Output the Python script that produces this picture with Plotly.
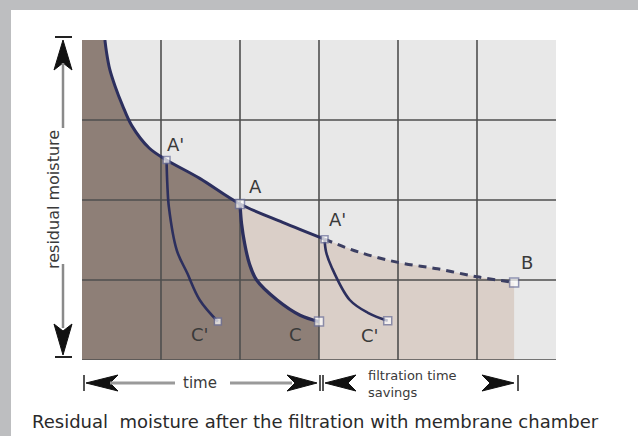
import plotly.graph_objects as go

# ---------------- data ----------------
x_ticks = [0, 1, 2, 3, 4, 5, 6]
y_ticks = [0, 1, 2, 3, 4]

# main filtration curve (start -> A' -> A -> A'')
main_x = [0.29, 0.31, 0.35, 0.42, 0.51, 0.63, 0.85, 1.07, 1.49, 2.0, 2.54, 3.07]
main_y = [4.0, 3.85, 3.64, 3.42, 3.19, 2.93, 2.65, 2.5, 2.27, 1.95, 1.72, 1.51]

# dashed continuation A'' -> B
dash_x = [3.07, 3.5, 4.0, 4.5, 5.0, 5.47]
dash_y = [1.51, 1.35, 1.22, 1.14, 1.04, 0.97]

# pressing curves
c1_x = [1.07, 1.08, 1.10, 1.20, 1.33, 1.49, 1.72]
c1_y = [2.5, 2.2, 1.91, 1.37, 1.09, 0.75, 0.48]
c2_x = [2.0, 2.02, 2.06, 2.12, 2.21, 2.47, 2.76, 3.0]
c2_y = [1.95, 1.7, 1.45, 1.2, 1.0, 0.75, 0.56, 0.48]
c3_x = [3.07, 3.09, 3.16, 3.39, 3.62, 3.87]
c3_y = [1.51, 1.35, 1.16, 0.75, 0.59, 0.49]

pt_names = ["A'", "A", "A'", "C'", "C", "C'", "B"]
pt_x = [1.07, 2.0, 3.07, 1.72, 3.0, 3.87, 5.47]
pt_y = [2.5, 1.95, 1.51, 0.48, 0.48, 0.49, 0.97]
pt_size = [7, 9, 7, 7, 9, 8, 9]

axis_label = "residual moisture"
time_label = "time"
saving_label = "filtration time<br>savings"
caption = "Residual  moisture after the filtration with membrane chamber"

# ---------------- geometry helpers ----------------
W, H = 638, 436
L, R, T, B = 82, 556, 40, 360


def px(x):
    return (x - L) / (R - L)


def py(y):
    return (B - y) / (B - T)


DARK = "#8e7f77"
BEIGE = "#dacfc8"
PLOTBG = "#e8e8e8"
GRID = "#4e4e4e"
CURVE = "#2c2f5e"
TXT = "#3a3a3a"

fig = go.Figure()

# beige fill: under main curve from A to A'' and dashed line to B
ia = main_x.index(2.0)
bx = [main_x[ia]] + main_x[ia:] + dash_x[1:] + [dash_x[-1]]
by = [0] + main_y[ia:] + dash_y[1:] + [0]
fig.add_trace(go.Scatter(x=bx, y=by, fill="toself", fillcolor=BEIGE,
                         mode="none", hoverinfo="skip"))

# dark fill: under main curve up to A and under the A-C curve
dx = [x_ticks[0], x_ticks[0]] + main_x[:ia + 1] + c2_x[1:] + [c2_x[-1]]
dy = [0, y_ticks[-1]] + main_y[:ia + 1] + c2_y[1:] + [0]
fig.add_trace(go.Scatter(x=dx, y=dy, fill="toself", fillcolor=DARK,
                         mode="none", hoverinfo="skip"))

# grid lines on top of fills
gx, gy = [], []
for v in x_ticks[1:-1]:
    gx += [v, v, None]
    gy += [y_ticks[0], y_ticks[-1], None]
for h in y_ticks[:-1]:
    gx += [x_ticks[0], x_ticks[-1], None]
    gy += [h, h, None]
fig.add_trace(go.Scatter(x=gx, y=gy, mode="lines",
                         line=dict(color=GRID, width=1.6), hoverinfo="skip",
                         cliponaxis=False))

# curves
fig.add_trace(go.Scatter(x=main_x, y=main_y, mode="lines",
                         line=dict(color=CURVE, width=3, shape="spline"),
                         cliponaxis=False))
fig.add_trace(go.Scatter(x=dash_x, y=dash_y, mode="lines",
                         line=dict(color="#3c3f62", width=3, dash="8px,6px",
                                   shape="spline")))
for cx, cy, w in [(c1_x, c1_y, 2.6), (c2_x, c2_y, 3.3), (c3_x, c3_y, 2.6)]:
    fig.add_trace(go.Scatter(x=cx, y=cy, mode="lines",
                             line=dict(color=CURVE, width=w, shape="spline")))

# point markers
fig.add_trace(go.Scatter(x=pt_x, y=pt_y, mode="markers",
                         marker=dict(symbol="square", size=pt_size, color="white",
                                     line=dict(color="#6a6f9a", width=1.5))))

# point labels
offs = [(9, 16), (15, 18), (13, 20), (-18, -13), (-24, -13), (-18, -15), (13, 20)]
for n, x, y, (ox, oy) in zip(pt_names, pt_x, pt_y, offs):
    fig.add_annotation(x=x, y=y, text=n, showarrow=False, xshift=ox, yshift=oy,
                       xanchor="center", yanchor="middle",
                       font=dict(family="DejaVu Sans", size=18, color=TXT))

shapes = []
# gray frame (top and left bands)
shapes.append(dict(type="rect", xref="paper", yref="paper", x0=px(0), x1=px(W),
                   y0=py(10), y1=py(0), fillcolor="#bdbec0", line_width=0, layer="below"))
shapes.append(dict(type="rect", xref="paper", yref="paper", x0=px(0), x1=px(11),
                   y0=py(H), y1=py(0), fillcolor="#bdbec0", line_width=0, layer="below"))


def line(x0, y0, x1, y1, color, width):
    shapes.append(dict(type="line", xref="paper", yref="paper", x0=px(x0), y0=py(y0),
                       x1=px(x1), y1=py(y1), line=dict(color=color, width=width)))


def head(tip, b1, b2, notch):
    pts = [tip, b1, notch, b2]
    path = "M " + " L ".join(f"{px(a):.5f},{py(b):.5f}" for a, b in pts) + " Z"
    shapes.append(dict(type="path", xref="paper", yref="paper", path=path,
                       fillcolor="#111111", line=dict(color="#111111", width=1)))


# vertical arrow (left)
line(55, 37, 72, 37, "#222", 2)
head((63, 40), (54, 70), (72, 70), (63, 63))
line(63, 63, 63, 128, "#8a8a8a", 2.5)
line(63, 264, 63, 328, "#8a8a8a", 2.5)
head((63, 355), (54, 324), (72, 324), (63, 331))
line(55, 357, 72, 357, "#222", 2)

# horizontal time arrow
line(84, 375, 84, 391, "#555", 2)
head((86, 383), (118, 375), (118, 391), (110, 383))
line(110, 383, 175, 383, "#9a9a9a", 3)
line(230, 383, 292, 383, "#9a9a9a", 3)
head((317, 383), (287, 375), (287, 391), (295, 383))
line(320, 375, 320, 391, "#555", 2)

# savings arrow
line(323, 375, 323, 391, "#555", 2)
head((325, 383), (356, 375), (356, 391), (348, 383))
head((514, 383), (482, 375), (482, 391), (490, 383))
line(518, 375, 518, 391, "#555", 2)

fig.update_layout(shapes=shapes)

fig.add_annotation(xref="paper", yref="paper", x=px(53), y=py(200), text=axis_label,
                   textangle=-90, showarrow=False, xanchor="center", yanchor="middle",
                   font=dict(family="DejaVu Sans", size=16, color=TXT))
fig.add_annotation(xref="paper", yref="paper", x=px(200), y=py(383), text=time_label,
                   showarrow=False, xanchor="center", yanchor="middle",
                   font=dict(family="DejaVu Sans", size=15, color=TXT))
fig.add_annotation(xref="paper", yref="paper", x=px(366), y=py(384), text=saving_label,
                   xanchor="left", yanchor="middle", align="left", showarrow=False,
                   font=dict(family="DejaVu Sans", size=13, color=TXT))
fig.add_annotation(xref="paper", yref="paper", x=px(315), y=py(421), text=caption,
                   showarrow=False, xanchor="center", yanchor="middle",
                   font=dict(family="DejaVu Sans", size=18, color="#2a2a2a"))

fig.update_layout(
    width=W, height=H,
    margin=dict(l=L, r=W - R, t=T, b=H - B),
    paper_bgcolor="white", plot_bgcolor=PLOTBG,
    showlegend=False,
    xaxis=dict(range=[x_ticks[0], x_ticks[-1]], showgrid=False, zeroline=False,
               showticklabels=False, ticks="", fixedrange=True),
    yaxis=dict(range=[y_ticks[0], y_ticks[-1]], showgrid=False, zeroline=False,
               showticklabels=False, ticks="", fixedrange=True),
)

fig.write_html("out.html", config={"displayModeBar": False},
               post_script="document.body.style.margin='0px';")
